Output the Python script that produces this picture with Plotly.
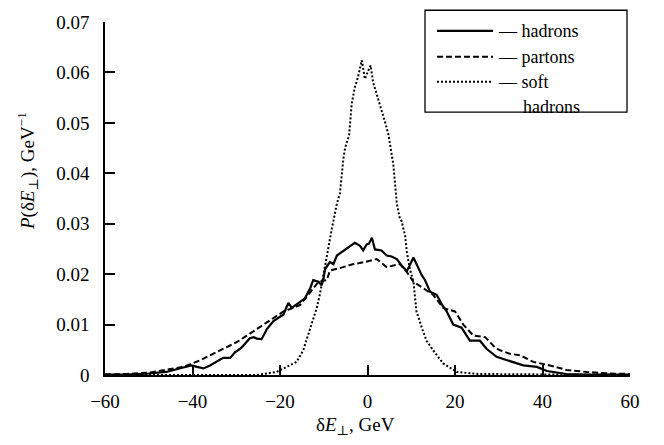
import plotly.graph_objects as go

# ---- data ----
hadrons_x = [-60, -55, -50, -46, -43, -40.2, -39, -37.5, -36, -34.5, -33, -31.4, -30.3, -29.1, -28.4,
             -26.9, -26, -25.3, -24.2, -23, -21.5, -19.2, -18.1, -17.3, -15.4, -14.3, -13.1, -12.4,
             -11.2, -10.5, -10.1, -9.7, -8.6, -7.8, -7.0, -5.1, -4.4, -2.9, -1.7, -1.0, -0.2, 0.3,
             1.0, 1.7, 3.2, 4.4, 5.5, 6.7, 8.0, 9.0, 10.5, 11.2, 12.4, 13.1, 14.3, 15.8, 17.0, 18.1,
             19.6, 21.5, 23.4, 25.7, 27.2, 29.5, 31.8, 33.3, 35.6, 38.7, 41, 45.5, 50, 60]
hadrons_y = [0.0001, 0.0001, 0.0003, 0.0006, 0.0013, 0.0019, 0.0016, 0.0013, 0.0019, 0.0026, 0.0034,
             0.0034, 0.0045, 0.0052, 0.0058, 0.0073, 0.0075, 0.0072, 0.0071, 0.0091, 0.0107, 0.0120,
             0.0143, 0.0133, 0.0146, 0.0152, 0.0172, 0.0188, 0.0185, 0.0178, 0.0189, 0.0210, 0.0224,
             0.0220, 0.0237, 0.0249, 0.0253, 0.0262, 0.0256, 0.0247, 0.0259, 0.0260, 0.0272, 0.0249,
             0.0247, 0.0237, 0.0235, 0.0230, 0.0215, 0.0206, 0.0233, 0.0220, 0.0198, 0.0189, 0.0165,
             0.0159, 0.0140, 0.0126, 0.0100, 0.0094, 0.0068, 0.0068, 0.0052, 0.0036, 0.0029, 0.0026,
             0.0019, 0.0016, 0.0008, 0.0002, 0.0001, 0.0001]

partons_x = [-60, -55, -49.7, -45.9, -42.1, -38.3, -33.7, -30.7, -29.9, -27.6, -25.3, -22.3, -19.2,
             -17, -15.4, -13, -11.2, -9.3, -8.6, -6.3, -3.2, -0.6, 2.1, 4.4, 7.4, 9.0, 10.5, 12.8,
             15, 17.3, 20, 21.9, 24.2, 26.9, 29.1, 30.3, 32.6, 34.9, 37.9, 41.7, 45.5, 50.1, 55.4, 60]
partons_y = [0.0001, 0.0002, 0.0005, 0.0010, 0.0016, 0.0029, 0.0049, 0.0062, 0.0065, 0.0078, 0.0091,
             0.0107, 0.0126, 0.0133, 0.0139, 0.0165, 0.0185, 0.0188, 0.0207, 0.0212, 0.0220, 0.0224,
             0.0230, 0.0214, 0.0220, 0.0204, 0.0185, 0.0172, 0.0159, 0.0133, 0.0126, 0.0100, 0.0078,
             0.0075, 0.0055, 0.0049, 0.0042, 0.0039, 0.0026, 0.0019, 0.0010, 0.0006, 0.0003, 0.0002]

soft_x = [-60, -30, -25.3, -20.8, -18.5, -16.2, -14.7, -13.5, -12.8, -11.6, -10.9, -10.1, -9.3, -8.2,
          -7.0, -6.3, -5.5, -5.1, -4.2, -3.6, -2.9, -2.2, -1.3, -0.6, 0, 0.7, 1.3, 2.9, 4.0, 4.8, 5.9,
          6.7, 7.4, 7.8, 8.6, 9.0, 9.7, 10.5, 11.2, 12.4, 13.5, 15.0, 17.3, 20.4, 25.3, 60]
soft_y = [0, 0, 0, 0.0006, 0.0016, 0.0026, 0.0049, 0.0081, 0.0097, 0.0133, 0.0159, 0.0198, 0.0230,
          0.0288, 0.0340, 0.0360, 0.0430, 0.0451, 0.0476, 0.0539, 0.0570, 0.0590, 0.0624, 0.0587,
          0.0600, 0.0614, 0.0580, 0.0535, 0.0502, 0.0476, 0.0418, 0.0340, 0.0310, 0.0305, 0.0276,
          0.0243, 0.0210, 0.0185, 0.0126, 0.0094, 0.0068, 0.0049, 0.0023, 0.0006, 0.0002, 0]

x_ticks = [-60, -40, -20, 0, 20, 40, 60]
x_ticktext = ["\u221260", "\u221240", "\u221220", "0", "20", "40", "60"]
y_ticks = [0, 0.01, 0.02, 0.03, 0.04, 0.05, 0.06, 0.07]
y_ticktext = ["0", "0.01", "0.02", "0.03", "0.04", "0.05", "0.06", "0.07"]

FONT = "'Liberation Serif', 'Times New Roman', Times, 'DejaVu Serif', serif"

fig = go.Figure()
fig.add_trace(go.Scatter(x=hadrons_x, y=hadrons_y, mode="lines", name="hadrons",
                         line=dict(color="black", width=2.2)))
fig.add_trace(go.Scatter(x=partons_x, y=partons_y, mode="lines", name="partons",
                         line=dict(color="black", width=2, dash="6px,3px")))
fig.add_trace(go.Scatter(x=soft_x, y=soft_y, mode="lines", name="soft hadrons",
                         line=dict(color="black", width=2, dash="2px,2px")))

# legend drawn manually
W, L, T, H = 525, 105, 15, 360
def px(x):
    return (x - L) / W
def py(y):
    return (375 - y) / H

shapes = [dict(type="rect", xref="paper", yref="paper", x0=px(425), x1=px(627), y0=py(107), y1=py(3),
               line=dict(color="black", width=1.3), fillcolor="white", layer="above")]
for yy, dash, w in [(24, "solid", 2.2), (50.5, "6px,3px", 2), (76, "2px,2px", 2)]:
    shapes.append(dict(type="line", xref="paper", yref="paper", x0=px(437), x1=px(493), y0=py(yy), y1=py(yy),
                       line=dict(color="black", width=w, dash=dash), layer="above"))

ann = []
for yy, txt in [(24, "\u2014 hadrons"), (50.5, "\u2014 partons"), (76, "\u2014 soft")]:
    ann.append(dict(x=px(496), y=py(yy), xref="paper", yref="paper", text=txt, showarrow=False,
                    xanchor="left", yanchor="middle", font=dict(family=FONT, size=18, color="black")))
ann.append(dict(x=px(521), y=py(102), xref="paper", yref="paper", text="hadrons", showarrow=False,
                xanchor="left", yanchor="middle", font=dict(family=FONT, size=18, color="black")))
ann.append(dict(x=px(355), y=py(427), xref="paper", yref="paper",
                text="\u03b4<i>E</i><sub>\u22a5</sub>, GeV", showarrow=False,
                xanchor="center", yanchor="middle", font=dict(family=FONT, size=19, color="black")))
ann.append(dict(x=px(27), y=py(167), xref="paper", yref="paper", textangle=-90,
                text="<i>P</i>(\u03b4<i>E</i><sub>\u22a5</sub>), GeV<sup>\u22121</sup>", showarrow=False,
                xanchor="center", yanchor="middle", font=dict(family=FONT, size=19, color="black")))

fig.update_layout(
    width=664, height=445,
    margin=dict(l=105, r=34, t=15, b=70),
    paper_bgcolor="white", plot_bgcolor="white",
    showlegend=False,
    font=dict(family=FONT, size=19, color="black"),
    shapes=shapes, annotations=ann,
    xaxis=dict(range=[-60, 60], tickvals=x_ticks, ticktext=x_ticktext, showgrid=False, zeroline=False,
               showline=True, linecolor="black", linewidth=1.5, ticks="inside", ticklen=10,
               tickwidth=1.5, tickcolor="black", ticklabelstandoff=8,
               tickfont=dict(family=FONT, size=19, color="black")),
    yaxis=dict(range=[0, 0.07], tickvals=y_ticks, ticktext=y_ticktext, showgrid=False, zeroline=False,
               showline=True, linecolor="black", linewidth=1.5, ticks="inside", ticklen=10,
               tickwidth=1.5, tickcolor="black", ticklabelstandoff=10,
               tickfont=dict(family=FONT, size=19, color="black")),
)

fig.write_html("out.html")
